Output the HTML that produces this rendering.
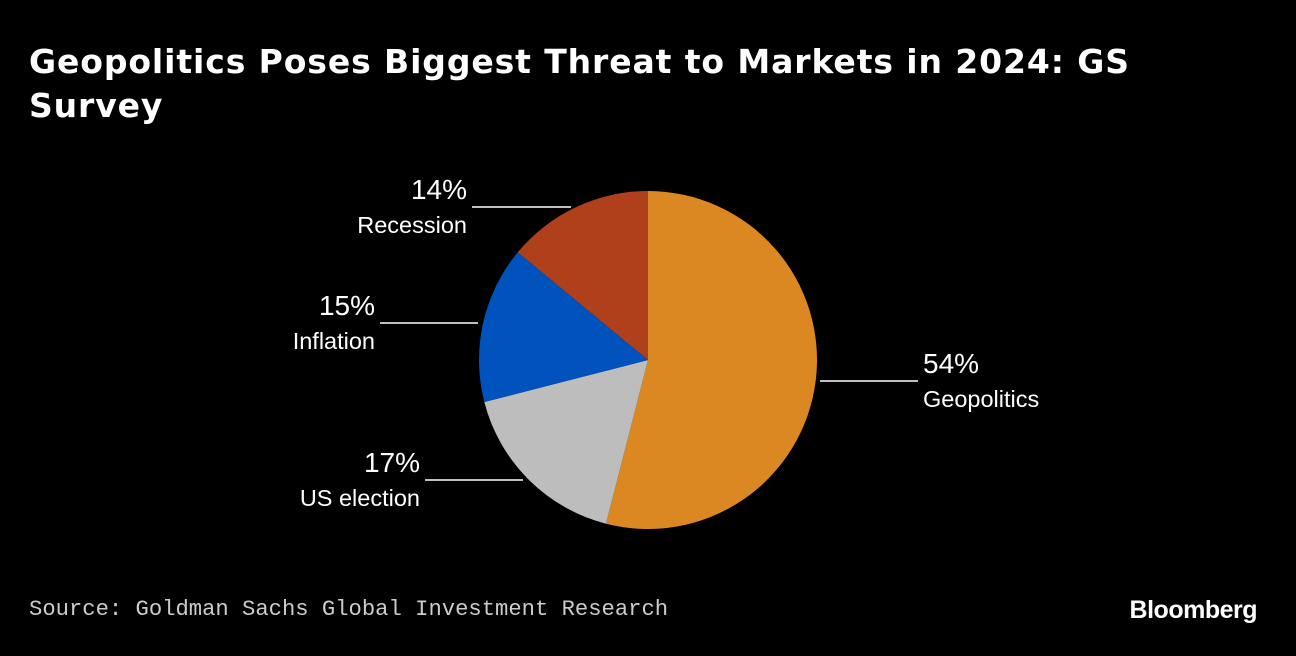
<!DOCTYPE html>
<html><head><meta charset="utf-8"><style>
html,body{margin:0;padding:0;background:#000;width:1296px;height:656px;overflow:hidden}
body{font-family:"Liberation Sans",sans-serif;color:#fff;position:relative}
.title{position:absolute;left:29px;top:40px;font-family:"DejaVu Sans",sans-serif;font-size:33px;font-weight:bold;line-height:44px;white-space:nowrap;letter-spacing:0.9px}
.src{position:absolute;left:29px;top:597px;font-family:"Liberation Mono",monospace;font-size:22.2px;color:#ccc}
.logo{position:absolute;right:39px;top:596px;font-size:25px;font-weight:bold;letter-spacing:-0.5px}
</style></head><body>
<div class="title">Geopolitics Poses Biggest Threat to Markets in 2024: GS<br>Survey</div>
<svg id="chart" width="1296" height="656" style="position:absolute;left:0;top:0"></svg>
<div class="src">Source: Goldman Sachs Global Investment Research</div>
<div class="logo">Bloomberg</div>
<script>
const categories = ["Geopolitics","US election","Inflation","Recession"];
const values = [54,17,15,14];
const colors = ["#dc8822","#bdbdbd","#0052bd","#b0401c"];
// label layout: [lineX1, lineX2, lineY, textX, anchor]
const layout = [[820,918,381,923,"start"],[425,523,480,420,"end"],[380,478,323,375,"end"],[472,571,207,467,"end"]];
const svg = document.getElementById('chart');
const NS = "http://www.w3.org/2000/svg";
const cx=648, cy=360, r=169;
const total = values.reduce((a,b)=>a+b,0);
function pt(a){return [cx+r*Math.sin(a), cy-r*Math.cos(a)];}
let acc=0;
values.forEach((v,i)=>{
  const a0=acc/total*2*Math.PI; acc+=v; const a1=acc/total*2*Math.PI;
  const p0=pt(a0), p1=pt(a1);
  const path=document.createElementNS(NS,'path');
  path.setAttribute('d',`M${cx},${cy}L${p0[0]},${p0[1]}A${r},${r} 0 ${a1-a0>Math.PI?1:0} 1 ${p1[0]},${p1[1]}Z`);
  path.setAttribute('fill',colors[i]);
  
  
  svg.appendChild(path);
  const L=layout[i];
  const line=document.createElementNS(NS,'line');
  line.setAttribute('x1',L[0]);line.setAttribute('x2',L[1]);line.setAttribute('y1',L[2]);line.setAttribute('y2',L[2]);
  line.setAttribute('stroke','#fff');line.setAttribute('stroke-width','1.5');
  
  
  svg.appendChild(line);
  const t1=document.createElementNS(NS,'text');
  t1.setAttribute('x',L[3]);t1.setAttribute('y',L[2]-8);t1.setAttribute('text-anchor',L[4]);
  t1.setAttribute('fill','#fff');t1.setAttribute('font-size','28');t1.setAttribute('font-family','Liberation Sans, sans-serif');
  t1.textContent=v+'%';
  
  
  svg.appendChild(t1);
  const t2=document.createElementNS(NS,'text');
  t2.setAttribute('x',L[3]);t2.setAttribute('y',L[2]+26);t2.setAttribute('text-anchor',L[4]);
  t2.setAttribute('fill','#fff');t2.setAttribute('font-size','23.5');t2.setAttribute('font-family','Liberation Sans, sans-serif');
  t2.textContent=categories[i];
  
  
  svg.appendChild(t2);
});
</script>
</body></html>
